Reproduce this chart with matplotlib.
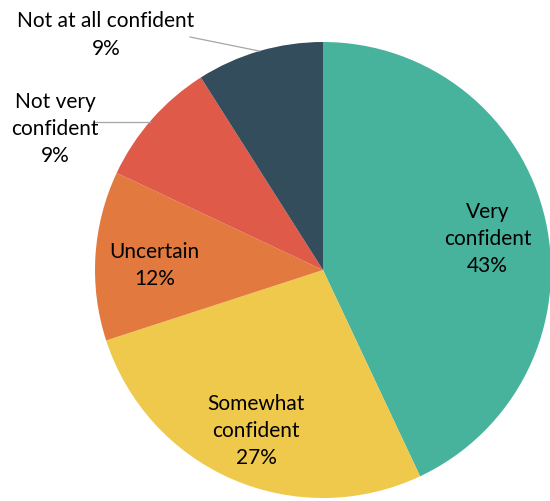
import numpy as np
import matplotlib.pyplot as plt

labels = ['Very\nconfident', 'Somewhat\nconfident', 'Uncertain',
          'Not very\nconfident', 'Not at all confident']
shares = [43, 27, 12, 9, 9]
colors = ['#47B39D', '#EFC94C', '#E27A3F', '#DF5A49', '#334D5C']

plt.rcParams['font.family'] = ['Lato', 'DejaVu Sans']

fig = plt.figure(figsize=(5.5, 5.01), dpi=100)
ax = fig.add_axes([0, 0, 1, 1])

cx, cy, r = 323, 231, 228
wedges, _ = ax.pie(shares, colors=colors, startangle=90, counterclock=False,
                   center=(cx, cy), radius=r, frame=True,
                   wedgeprops=dict(linewidth=0))
ax.set_xlim(0, 550)
ax.set_ylim(0, 501)
ax.set_aspect('equal')
ax.axis('off')

txt = dict(fontsize=15, ha='center', va='center', linespacing=1.45, color='black')

# inner labels sit at ~0.74 of the radius along the wedge bisector, nudged down a bit
for w, lab, v in zip(wedges[:3], labels[:3], shares[:3]):
    ang = np.deg2rad((w.theta1 + w.theta2) / 2)
    x = cx + 0.74 * r * np.cos(ang)
    y = cy + 0.74 * r * np.sin(ang) - 6
    ax.text(x, y, f'{lab}\n{v}%', **txt)

# "Not very confident": horizontal leader to the rim
ly = 379
ex = cx - np.sqrt(r ** 2 - (ly - cy) ** 2)
ax.plot([95, ex], [ly, ly], color='#A6A6A6', lw=0.9)
ax.text(55, 372, f'{labels[3]}\n{shares[3]}%', **txt)

# "Not at all confident": slanted leader to the wedge bisector on the rim
w = wedges[4]
ang = np.deg2rad((w.theta1 + w.theta2) / 2)
ax.plot([190, cx + r * np.cos(ang)], [464, cy + r * np.sin(ang)],
        color='#A6A6A6', lw=0.9)
ax.text(106, 466, f'{labels[4]}\n{shares[4]}%', **txt)

fig.savefig('out.png', dpi=100)
